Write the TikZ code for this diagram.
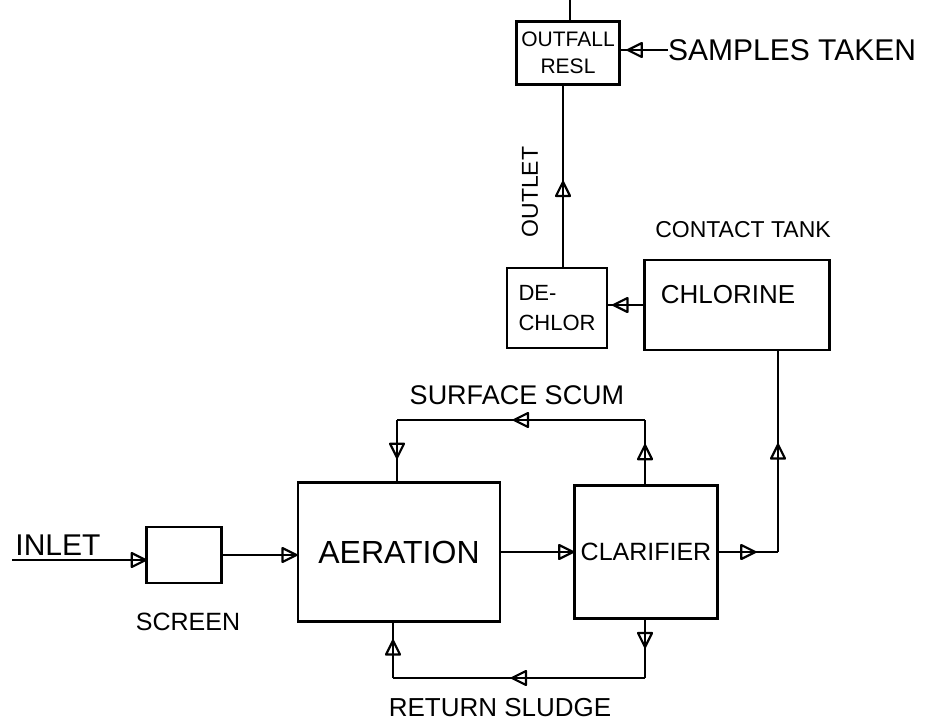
\documentclass[tikz,border=0pt]{standalone}
\usepackage{fontspec}
\setmainfont{Liberation Sans}
\usetikzlibrary{decorations.markings}
\newcommand{\fs}[1]{\fontsize{#1}{#1}\selectfont}
\tikzset{
  box/.style={draw,line width=2.2pt,minimum width=#1,inner sep=0pt,align=center},
  lbl/.style={inner sep=0pt},
  flow/.style={line width=2.2pt},
  midtri/.style={flow,postaction={decorate},decoration={markings,mark=at position #1 with {\draw[line width=2.2pt,line join=round] (7pt,0pt) -- (-7pt,7pt) -- (-7pt,-7pt) -- cycle;}}},
}
\begin{document}
\begin{tikzpicture}[x=1pt,y=-1pt]
\useasboundingbox (0,0) rectangle (933,726);
% boxes
\node[box=103pt,minimum height=63pt,font=\fs{21},align=center] (outfall) at (568,53) {OUTFALL\\[6pt]RESL};
\node[box=100pt,minimum height=80pt,font=\fs{22},align=left] (dechlor) at (557,308) {DE-\\[8pt]CHLOR};
\node[box=185pt,minimum height=90pt] (chlor) at (737,305) {};
\node[lbl,font=\fs{26}] (chlortxt) at (728,295) {CHLORINE};
\node[box=202pt,minimum height=139pt,font=\fs{32}] (aer) at (399,552) {AERATION};
\node[box=143pt,minimum height=133pt,font=\fs{25}] (clar) at (646,552) {CLARIFIER};
\node[box=75pt,minimum height=56pt] (screen) at (184,555) {};
% labels
\node[lbl,font=\fs{30}] (samples) at (792,50) {SAMPLES TAKEN};
\node[lbl,font=\fs{23}] (contact) at (743,230) {CONTACT TANK};
\node[lbl,rotate=90,font=\fs{23}] (outlet) at (530,192) {OUTLET};
\node[lbl,font=\fs{30}] (inlet) at (58,545) {INLET};
\node[lbl,font=\fs{25}] (screenlbl) at (188,622) {SCREEN};
\node[lbl,font=\fs{27}] (scum) at (517,395) {SURFACE SCUM};
\node[lbl,font=\fs{26}] (sludge) at (500,708) {RETURN SLUDGE};
% coordinates
\coordinate (top) at (570,0);
\coordinate (ol) at (563,0);
\coordinate (inl) at (12,560);
\coordinate (c1) at (778,552);
\coordinate (s1) at (645,420);
\coordinate (s2) at (397,420);
\coordinate (r1) at (645,678);
\coordinate (r2) at (393,678);
% connectors
\draw[flow] (top) -- (outfall.north -| top);
\draw[midtri=0.43] (dechlor.north -| ol) -- (outfall.south -| ol);
\draw[midtri=0.7] (samples.west) -- (outfall.east |- samples.west);
\draw[midtri=0.65] (chlor.west) -- (dechlor.east |- chlor.west);
\draw[midtri=0.95] (inl) -- (screen.west |- inl);
\draw[midtri=0.9] (screen.east) -- (aer.west |- screen.east);
\draw[midtri=0.9] (aer.east) -- (clar.west);
\draw[midtri=0.5] (clar.east) -- (c1);
\draw[midtri=0.5] (c1) -- (chlor.south -| c1);
\draw[midtri=0.5] (clar.north -| s1) -- (s1);
\draw[midtri=0.5] (s1) -- (s2);
\draw[midtri=0.5] (s2) -- (aer.north -| s2);
\draw[midtri=0.35] (clar.south -| r1) -- (r1);
\draw[midtri=0.5] (r1) -- (r2);
\draw[midtri=0.55] (r2) -- (aer.south -| r2);
\end{tikzpicture}
\end{document}
